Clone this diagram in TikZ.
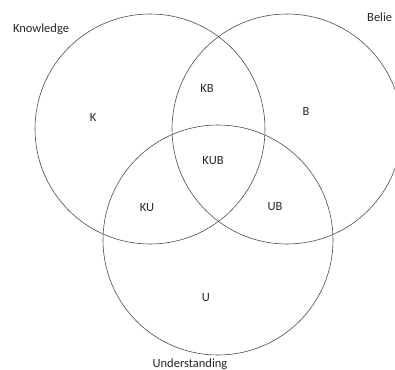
\documentclass[tikz,border=0pt]{standalone}
\usepackage{fontspec}
\setmainfont{Carlito}
\begin{document}
\begin{tikzpicture}[x=1pt,y=-1pt,
  ring/.style={draw=black!70,line width=0.6pt},
  lbl/.style={font=\fontsize{12.5}{14}\selectfont,text=black!85,inner sep=0pt}]
\useasboundingbox (0,0) rectangle (395,369);
\clip (0,0) rectangle (395,369);
\node[ring,circle,minimum size=230pt,inner sep=0pt] (know) at (150,129) {};
\node[ring,circle,minimum size=230pt,inner sep=0pt] (bel) at (287,129) {};
\node[ring,circle,minimum size=230pt,inner sep=0pt] (und) at (218,240) {};
\node[lbl] (tk) at (41,29) {Knowledge};
\node[lbl,anchor=west] (tb) at (367,17) {Belie};
\node[lbl] (tu) at (190,364) {Understanding};
\node[lbl] (k) at (93,117) {K};
\node[lbl] (b) at (306,111) {B};
\node[lbl] (kb) at (207,88) {KB};
\node[lbl] (kub) at (213,161) {KUB};
\node[lbl] (ku) at (147,208) {KU};
\node[lbl] (ub) at (275,207) {UB};
\node[lbl] (u) at (206,298) {U};
\end{tikzpicture}
\end{document}
